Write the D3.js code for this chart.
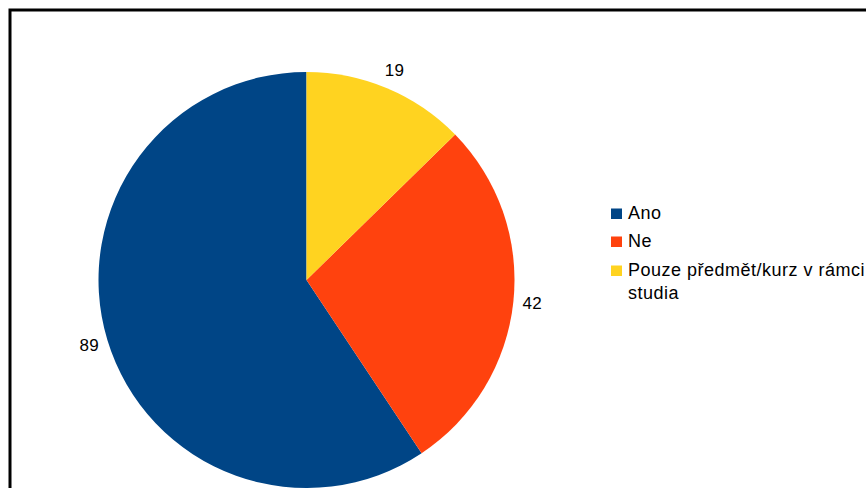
<!DOCTYPE html>
<html>
<head>
<meta charset="utf-8">
<script src="https://cdn.jsdelivr.net/npm/d3@7"></script>
<style>
  html, body { margin: 0; padding: 0; background: #fff; }
  svg { display: block; }
  text { font-family: "Liberation Sans", Arial, sans-serif; fill: #000; }
</style>
</head>
<body>
<svg id="chart" width="866" height="488"></svg>
<script>
// Survey answers and their counts
const categories = ["Ano", "Ne", "Pouze předmět/kurz v rámci studia"];
const legendLines = [["Ano"], ["Ne"], ["Pouze předmět/kurz v rámci", "studia"]];
const values = [89, 42, 19];
const colors = ["#004586", "#ff420e", "#ffd320"];

const svg = d3.select("#chart");
const W = 866, H = 488;

// Outer frame (runs past the right and bottom edges)
svg.append("rect")
  .attr("x", 10).attr("y", 10)
  .attr("width", W + 20).attr("height", H + 20)
  .attr("fill", "#fff")
  .attr("stroke", "#000")
  .attr("stroke-width", 3);

const cx = 306.5, cy = 280, R = 208;
const data = categories.map((c, i) => ({ cat: c, value: values[i], color: colors[i] }));

// Slices run counter-clockwise from twelve o'clock
const pie = d3.pie().value(d => d.value).sort(null)
  .startAngle(0).endAngle(-2 * Math.PI);
const arc = d3.arc().innerRadius(0).outerRadius(R);
const labelArc = d3.arc().innerRadius(R + 19).outerRadius(R + 19);

const g = svg.append("g").attr("transform", `translate(${cx},${cy})`);
const arcs = pie(data);

g.selectAll("path.slice")
  .data(arcs)
  .join("path")
  .attr("class", "slice")
  .attr("d", arc)
  .attr("fill", d => d.data.color);

g.selectAll("text.val")
  .data(arcs)
  .join("text")
  .attr("class", "val")
  .attr("x", d => labelArc.centroid(d)[0])
  .attr("y", d => labelArc.centroid(d)[1])
  .attr("text-anchor", "middle")
  .attr("dominant-baseline", "central")
  .attr("font-size", 17)
  .attr("letter-spacing", 0.3)
  .text(d => d.data.value);

// Legend
const legendX = 611, baselines = [219, 247, 276];
const leg = svg.append("g");
data.forEach((d, i) => {
  leg.append("rect")
    .attr("x", legendX).attr("y", baselines[i] - 10.5)
    .attr("width", 11).attr("height", 10.5)
    .attr("fill", d.color);
  const t = leg.append("text")
    .attr("x", legendX + 17).attr("y", baselines[i])
    .attr("font-size", 18)
    .attr("letter-spacing", 0.5);
  legendLines[i].forEach((line, j) => {
    t.append("tspan")
      .attr("x", legendX + 17)
      .attr("dy", j === 0 ? 0 : 23)
      .text(line);
  });
});
</script>
</body>
</html>
